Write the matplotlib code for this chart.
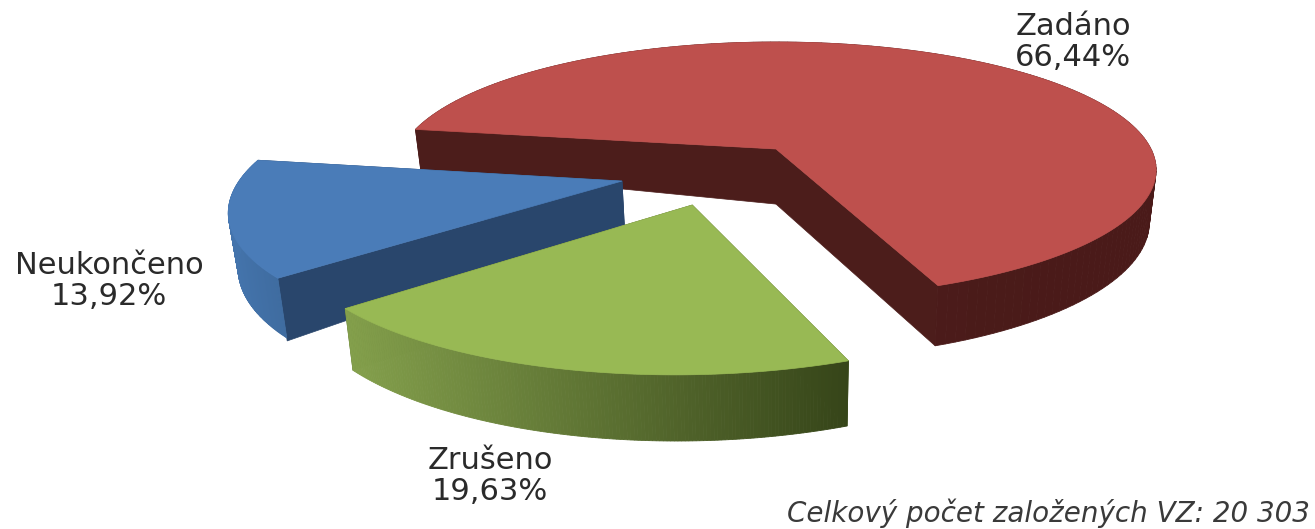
import numpy as np
import matplotlib
matplotlib.use("Agg")
import matplotlib.pyplot as plt
from matplotlib.colors import to_rgb

# Data
categories = ["Zadáno", "Zrušeno", "Neukončeno"]
shares = [66.44, 19.63, 13.92]
percent_labels = ["66,44%", "19,63%", "13,92%"]
note = "Celkový počet založených VZ: 20 303"

# Look of the pie
START_ANGLE = 170.7  # red wedge starts here and runs clockwise
APEX_X, APEX_Y = 776, 149
RX, RY = 375, 124.5
PERSP = 0.1636
DEPTH = 51
CONVERGE = 0.018  # bottom face is a bit narrower than the top one

offsets = [(0.0, 0.0), (-0.208, -0.419), (-0.394, -0.247)]  # explode
radii = [1.0, 0.98, 0.98]
apex_drop = [1.08, 1.0, 0.82]
corner_drop = [0.8, 1.0, 1.05]
top_colors = ["#BE504D", "#98B954", "#4A7CB8"]
wall_colors = ["#4C1D1B", "#4E6128", "#29466C"]
rim_left = ["#4C1D1B", "#84A04C", "#4474AC"]
rim_right = ["#4A1A19", "#364519", "#3F6CA0"]
label_pos = [(1073, 42), (490, 476), (109, 281)]


def project(x, y, drop=0.0):
    w = 1 + PERSP * y
    u = APEX_X + RX * x / w * (1 - CONVERGE * drop)
    v = APEX_Y - RY * y / w + drop * DEPTH / w
    return u, v


fig = plt.figure(figsize=(13.15, 5.29), dpi=100)
ax = fig.add_axes([0, 0, 1, 1])
ax.set_xlim(0, 1315)
ax.set_ylim(529, 0)
ax.axis("off")

# angles of every wedge, clockwise from the start
ends = np.cumsum(shares) / sum(shares) * 360
starts = np.concatenate([[0], ends[:-1]])

# red first, then blue, green lies on top of both
for i in [0, 2, 1]:
    a = np.radians(START_ANGLE - np.linspace(starts[i], ends[i], 160))
    dx, dy = offsets[i]
    xs = radii[i] * np.cos(a) + dx
    ys = radii[i] * np.sin(a) + dy

    # inner walls
    apex_top = project(dx, dy)
    apex_low = project(dx, dy, apex_drop[i])
    for px, py, d in [(xs[0], ys[0], corner_drop[i]), (xs[-1], ys[-1], 1.0)]:
        c_top = project(px, py)
        c_low = project(px, py, d)
        ax.fill([apex_top[0], c_top[0], c_low[0], apex_low[0]],
                [apex_top[1], c_top[1], c_low[1], apex_low[1]],
                color=wall_colors[i], lw=0.5)

    # outer rim, shaded along x
    u, v = project(xs, ys)
    u2, v2 = project(xs, ys, 1)
    c0, c1 = np.array(to_rgb(rim_left[i])), np.array(to_rgb(rim_right[i]))
    umin, umax = u.min(), u.max()
    for j in range(len(u) - 1):
        t = (u[j] - umin) / (umax - umin)
        ax.fill([u[j], u[j + 1], u2[j + 1], u2[j]], [v[j], v[j + 1], v2[j + 1], v2[j]],
                color=c0 + (c1 - c0) * t, lw=0.6)

    # top
    ax.fill(np.r_[apex_top[0], u], np.r_[apex_top[1], v], color=top_colors[i], lw=0.5)

    ax.text(label_pos[i][0], label_pos[i][1], categories[i] + "\n" + percent_labels[i],
            ha="center", va="center", fontsize=22, color="#2A2A2A", linespacing=1.12)

ax.text(1310, 522, note, ha="right", va="baseline", fontsize=20, style="italic", color="#3A3A3A")

fig.savefig("out.png", dpi=100)
